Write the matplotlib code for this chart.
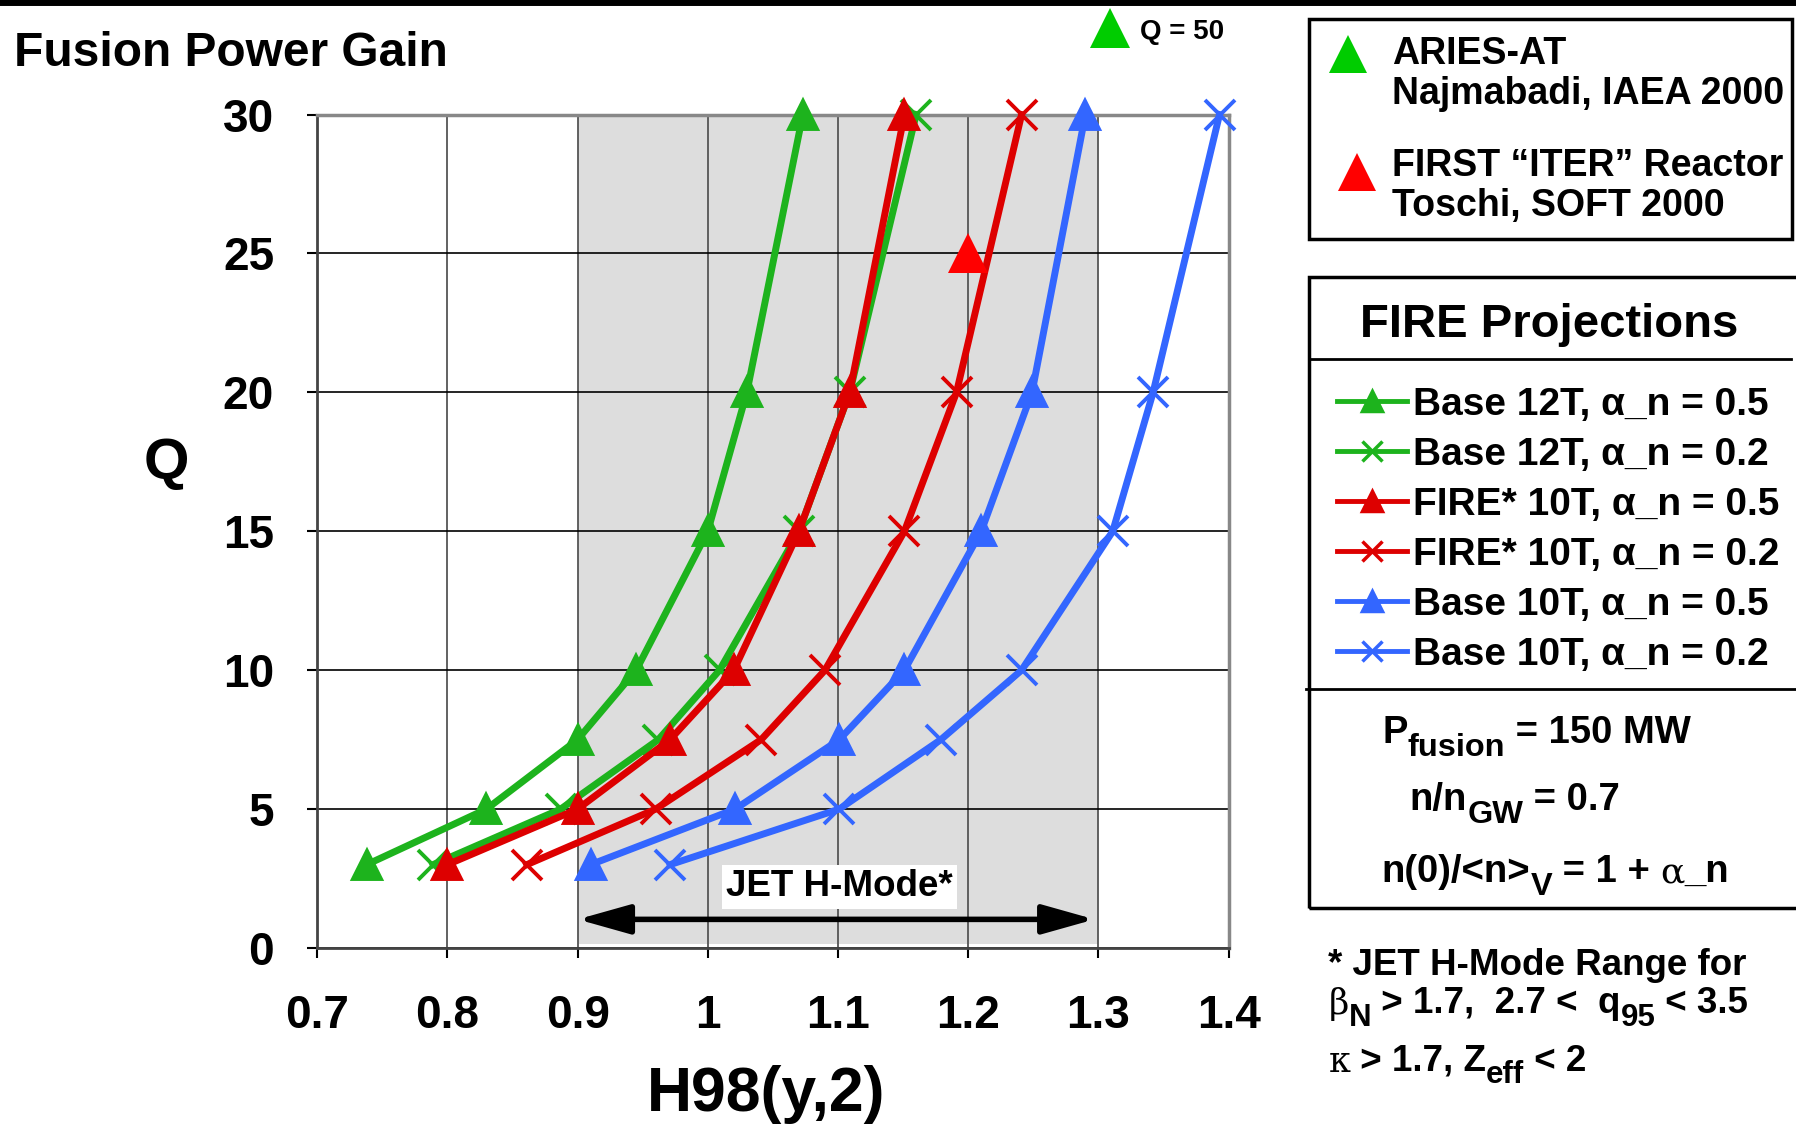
"""FIRE fusion power gain Q vs H98(y,2)"""

import matplotlib
matplotlib.use("Agg")
import matplotlib.pyplot as plt
from matplotlib.lines import Line2D
from matplotlib.patches import Rectangle
from matplotlib.text import Annotation

plt.rcParams["font.family"] = ["Liberation Sans", "DejaVu Sans"]
plt.rcParams["font.weight"] = "bold"
plt.rcParams["axes.labelweight"] = "bold"

# --- data ---
q_levels = [3, 5, 7.5, 10, 15, 20, 30]
h_base12_a05 = [0.738, 0.830, 0.900, 0.945, 1.000, 1.030, 1.073]
h_base12_a02 = [0.789, 0.887, 0.962, 1.009, 1.070, 1.109, 1.160]
h_fire10_a05 = [0.800, 0.900, 0.971, 1.020, 1.070, 1.109, 1.151]
h_fire10_a02 = [0.861, 0.960, 1.041, 1.090, 1.151, 1.191, 1.241]
h_base10_a05 = [0.910, 1.021, 1.101, 1.151, 1.210, 1.249, 1.290]
h_base10_a02 = [0.971, 1.101, 1.179, 1.241, 1.311, 1.342, 1.393]

series_labels = [
    "Base 12T, α_n = 0.5",
    "Base 12T, α_n = 0.2",
    "FIRE* 10T, α_n = 0.5",
    "FIRE* 10T, α_n = 0.2",
    "Base 10T, α_n = 0.5",
    "Base 10T, α_n = 0.2",
]

# reference reactor points (ARIES-AT sits off-scale at Q = 50)
first_h, first_q = [1.20], [25.0]
aries_h, aries_q = [1.309], [33.1]

# JET H-mode range
jet_h_min, jet_h_max = 0.90, 1.30

GREEN = "#1DB31D"
RED = "#DD0000"
BLUE = "#3366FF"


def run_style(kind, size):
    if kind == "s":
        return dict(fontsize=size * 0.85)
    if kind == "g":
        return dict(family="DejaVu Serif", fontweight="normal", fontsize=size * 0.95)
    return dict(fontsize=size)


def text_runs(fig, x, y, runs, size):
    """Write text pieces one after another; kind 's' = subscript, 'g' = symbol font."""
    sub_dy = -0.31 * size
    s0, k0 = runs[0]
    prev = fig.text(x, y, s0, va="baseline", ha="left", **run_style(k0, size))
    prev_dy = 0.0
    for s, kind in runs[1:]:
        dy = sub_dy if kind == "s" else 0.0
        ann = Annotation(s, xy=(1, 0), xycoords=prev, xytext=(0, dy - prev_dy),
                         textcoords="offset points", va="bottom", ha="left",
                         **run_style(kind, size))
        fig.add_artist(ann)
        prev, prev_dy = ann, dy


fig = plt.figure(figsize=(17.96, 11.24), dpi=100)
ax = fig.add_axes([0.1766, 0.1566, 0.5075, 0.7415])

ax.axvspan(jet_h_min, jet_h_max, ymin=0.005, color="#DDDDDD", zorder=0, lw=0)

styles = [
    (h_base12_a05, GREEN, "^"),
    (h_base12_a02, GREEN, "x"),
    (h_fire10_a05, RED, "^"),
    (h_fire10_a02, RED, "x"),
    (h_base10_a05, BLUE, "^"),
    (h_base10_a02, BLUE, "x"),
]
for h, color, marker in styles:
    ax.plot(h, q_levels, color=color, lw=5, marker=marker,
            ms=20 if marker == "^" else 21, mew=2.8, zorder=3, clip_on=False)

ax.plot(first_h, first_q, ls="none", marker="^", ms=29, color="#FF0000",
        mew=0, zorder=4)
ax.plot(aries_h, aries_q, ls="none", marker="^", ms=29, color="#00CC00",
        mew=0, zorder=4, clip_on=False)
fig.text(0.635, 0.9715, "Q = 50", fontsize=20, va="center", ha="left")

# JET arrow + label
ax.annotate("", xy=(jet_h_min, 1.03), xytext=(1.297, 1.03),
            arrowprops=dict(arrowstyle="<|-|>,head_length=1.6,head_width=0.45",
                            mutation_scale=20, color="black", lw=4,
                            shrinkA=0, shrinkB=0), zorder=5)
ax.text(1.101, 2.2, "JET H-Mode*", fontsize=26.5, ha="center", va="center",
        bbox=dict(boxstyle="square,pad=0.12", facecolor="white", edgecolor="none"),
        zorder=5)

ax.set_xlim(0.7, 1.4)
ax.set_ylim(0, 30)
ax.set_xticks([0.7, 0.8, 0.9, 1.0, 1.1, 1.2, 1.3, 1.4])
ax.set_xticklabels(["0.7", "0.8", "0.9", "1", "1.1", "1.2", "1.3", "1.4"])
ax.set_yticks(range(0, 31, 5))
ax.tick_params(axis="both", direction="out", length=7, width=1.5,
               labelsize=33, pad=24)
ax.tick_params(axis="x", pad=26)
ax.grid(axis="x", color="#555555", lw=1.3, zorder=1)
ax.grid(axis="y", color="black", lw=1.2, zorder=1)
ax.set_axisbelow(True)
for side in ("top", "right"):
    ax.spines[side].set_color("#888888")
    ax.spines[side].set_linewidth(2.5)
ax.spines["left"].set_color("#444444")
ax.spines["left"].set_linewidth(2)
ax.spines["bottom"].set_color("#444444")
ax.spines["bottom"].set_linewidth(2)

ax.set_xlabel("H98(y,2)", fontsize=45)
ax.xaxis.set_label_coords(0.493, -0.14)
ax.set_ylabel("Q", fontsize=42, rotation=0, va="center", ha="center")
ax.yaxis.set_label_coords(-0.1656, 0.581)

fig.text(0.0078, 0.952, "Fusion Power Gain", fontsize=34.5, va="center", ha="left")

# top rule across the page
fig.add_artist(Line2D([0, 1], [0.998, 0.998], color="black", lw=5))

# --- reference reactor box ---
fig.add_artist(Rectangle((0.729, 0.7874), 0.269, 0.1953, transform=fig.transFigure,
                         fill=False, edgecolor="black", lw=2.5))
fig.add_artist(Line2D([0.7506], [0.952], marker="^", ms=28, color="#00CC00", mew=0))
fig.add_artist(Line2D([0.7557], [0.847], marker="^", ms=28, color="#FF0000", mew=0))
fig.text(0.775, 0.952, "ARIES-AT", fontsize=27, va="center")
fig.text(0.775, 0.916, "Najmabadi, IAEA 2000", fontsize=27, va="center")
fig.text(0.775, 0.852, "FIRST \u201cITER\u201d Reactor", fontsize=27, va="center")
fig.text(0.775, 0.8166, "Toschi, SOFT 2000", fontsize=27, va="center")

# --- FIRE projections box ---
fig.add_artist(Rectangle((0.729, 0.1922), 0.275, 0.5614, transform=fig.transFigure,
                         fill=False, edgecolor="black", lw=2.5))
fig.add_artist(Line2D([0.729, 0.997], [0.681, 0.681], color="black", lw=2))
fig.add_artist(Line2D([0.727, 1.0], [0.3866, 0.3866], color="black", lw=2))
fig.text(0.8623, 0.711, "FIRE Projections", fontsize=34, ha="center", va="center")

handles = [
    Line2D([], [], color=color, lw=3.5, marker=marker, ms=15, mew=2.5)
    for _, color, marker in styles
]
fig.legend(handles, series_labels, loc="upper left", bbox_to_anchor=(0.7445, 0.656),
           bbox_transform=fig.transFigure, frameon=False, fontsize=28,
           handlelength=1.8, handletextpad=0.15, labelspacing=0.36,
           borderpad=0, borderaxespad=0)

text_runs(fig, 0.7695, 0.339, [("P", "n"), ("fusion", "s"), (" = 150 MW", "n")], 27.5)
text_runs(fig, 0.785, 0.2794, [("n/n", "n"), ("GW", "s"), (" = 0.7", "n")], 27.5)
text_runs(fig, 0.7693, 0.2156, [("n(0)/<n>", "n"), ("V", "s"), (" = 1 + ", "n"),
                                 ("α", "g"), ("_n", "n")], 27.5)

# --- footnote ---
fig.text(0.7396, 0.1326, "* JET H-Mode Range for", fontsize=26.5, va="baseline")
text_runs(fig, 0.7396, 0.0976, [("β", "g"), ("N", "s"), (" > 1.7,  2.7 <  q", "n"),
                                 ("95", "s"), (" < 3.5", "n")], 26.5)
text_runs(fig, 0.7396, 0.0465, [("κ", "g"), (" > 1.7, Z", "n"), ("eff", "s"),
                                 (" < 2", "n")], 26.5)

fig.savefig("out.png", dpi=100)
plt.close(fig)
